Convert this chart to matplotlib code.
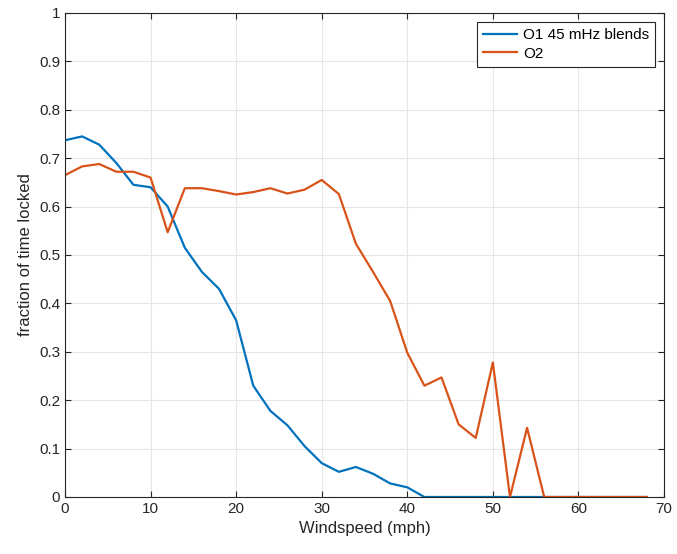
import matplotlib
matplotlib.use("Agg")
import matplotlib.pyplot as plt
import numpy as np

plt.rcParams['font.family'] = ['Liberation Sans', 'DejaVu Sans']

windspeed = list(range(0, 70, 2))
o1 = [0.737, 0.745, 0.728, 0.69, 0.645, 0.64, 0.60, 0.515, 0.465, 0.43,
      0.365, 0.23, 0.178, 0.148, 0.105, 0.07, 0.052, 0.062, 0.048, 0.028,
      0.02, 0.0, 0, 0, 0, 0, 0, 0, 0, 0, 0, 0, 0, 0, 0]
o2 = [0.665, 0.683, 0.688, 0.672, 0.672, 0.66, 0.547, 0.638, 0.638, 0.632,
      0.625, 0.63, 0.638, 0.627, 0.635, 0.655, 0.626, 0.523, 0.465, 0.405,
      0.298, 0.23, 0.247, 0.15, 0.122, 0.278, 0.0, 0.143, 0.0, 0, 0, 0, 0, 0, 0]
labels = ['O1 45 mHz blends', 'O2']

fig = plt.figure(figsize=(6.77, 5.54), dpi=100)
ax = fig.add_axes([65/677, 1-497/554, (664-65)/677, (497-13)/554])
ax.plot(windspeed, o1, color='#0072BD', lw=1.6, label=labels[0])
ax.plot(windspeed, o2, color='#D95319', lw=1.6, label=labels[1])
ax.set_xlim(0, 70)
ax.set_ylim(0, 1)
ax.set_xticks(np.arange(0, 71, 10))
ax.set_yticks(np.arange(0, 1.01, 0.1))
ax.set_yticklabels(['0', '0.1', '0.2', '0.3', '0.4', '0.5', '0.6', '0.7', '0.8', '0.9', '1'])
ax.grid(True, color='#e6e6e6', lw=0.8)
ax.set_axisbelow(True)
ax.tick_params(direction='in', top=True, right=True, labelsize=11, colors='#262626', length=4)
for s in ax.spines.values():
    s.set_color('#262626')
    s.set_linewidth(0.8)
ax.set_xlabel('Windspeed (mph)', fontsize=12, color='#262626')
ax.set_ylabel('fraction of time locked', fontsize=12, color='#262626')
leg = ax.legend(loc='upper right', fontsize=11, fancybox=False, framealpha=1,
                edgecolor='#262626', handlelength=2.2, handletextpad=0.4,
                borderpad=0.4, labelspacing=0.3, borderaxespad=0,
                bbox_to_anchor=(1 - 9/599, 1 - 9/484))
leg.get_frame().set_linewidth(0.8)
fig.savefig('out.png', dpi=100)
